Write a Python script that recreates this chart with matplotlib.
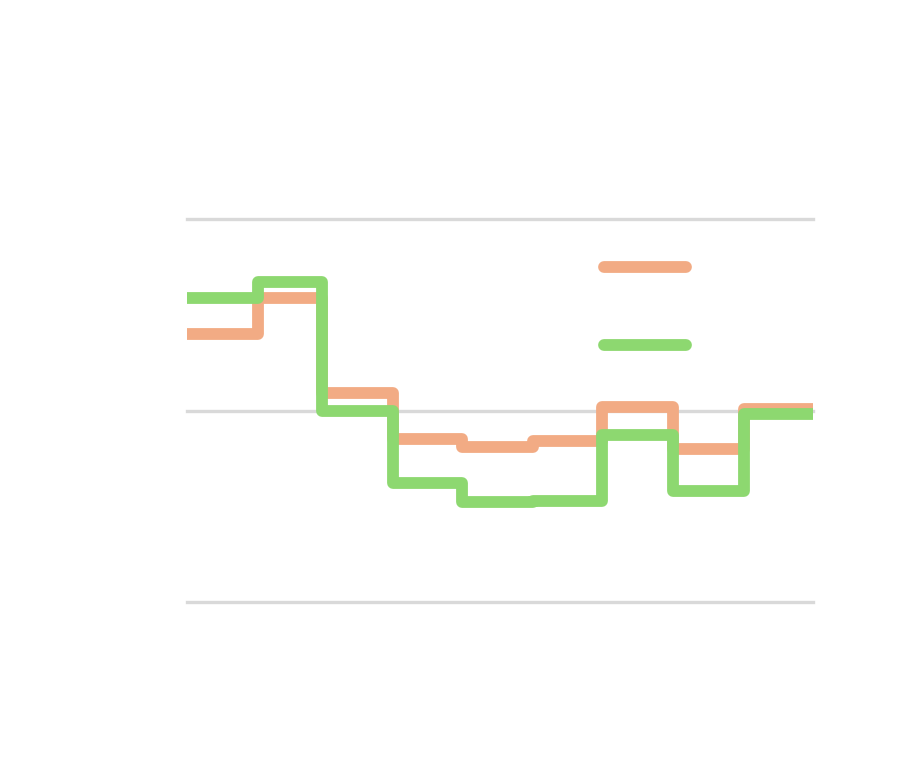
import matplotlib
matplotlib.use("Agg")
import matplotlib.pyplot as plt
import matplotlib.dates as mdates
import numpy as np
from matplotlib.lines import Line2D

# Data (monthly step chart, Jan..Sep)
months = ["2023-01", "2023-02", "2023-03", "2023-04", "2023-05",
          "2023-06", "2023-07", "2023-08", "2023-09", "2023-10"]
series_a = [1.40, 1.59, 1.09, 0.85, 0.81, 0.84, 1.02, 0.80, 1.01]   # orange
series_b = [1.59, 1.67, 1.00, 0.62, 0.52, 0.53, 0.87, 0.58, 0.98]   # green
yticks = [0, 1, 2]

orange = "#F2AB84"
green = "#8DD870"

fig = plt.figure(figsize=(9.01, 7.67), dpi=100)
ax = fig.add_axes([187/901, (767-602)/767, 626/901, 383/767])

edges = np.array(months, dtype="datetime64[M]").astype("datetime64[D]")
ya = list(series_a) + [series_a[-1]]
yb = list(series_b) + [series_b[-1]]

for yv in yticks:
    ax.axhline(yv, color="#d9d9d9", lw=2.4, zorder=0, clip_on=False)

ax.step(edges, ya, where="post", color=orange, lw=8.5,
        solid_joinstyle="round", solid_capstyle="round", zorder=2)
ax.step(edges, yb, where="post", color=green, lw=8.5,
        solid_joinstyle="round", solid_capstyle="round", zorder=3)

ax.set_xlim(edges[0], edges[-1])
ax.set_ylim(0, 2)
ax.set_xticks([])
ax.set_yticks([])
for s in ax.spines.values():
    s.set_visible(False)

h1 = Line2D([], [], color=orange, lw=8.5, solid_capstyle="round")
h2 = Line2D([], [], color=green, lw=8.5, solid_capstyle="round")
fig.legend([h1, h2], [" ", " "], loc="upper left",
           bbox_to_anchor=(604/901, 1 - 261/767), frameon=False,
           fontsize=10, handlelength=5.9, borderpad=0, borderaxespad=0,
           labelspacing=4.6, handletextpad=0.5)

fig.savefig("out.png", dpi=100, facecolor="white")
